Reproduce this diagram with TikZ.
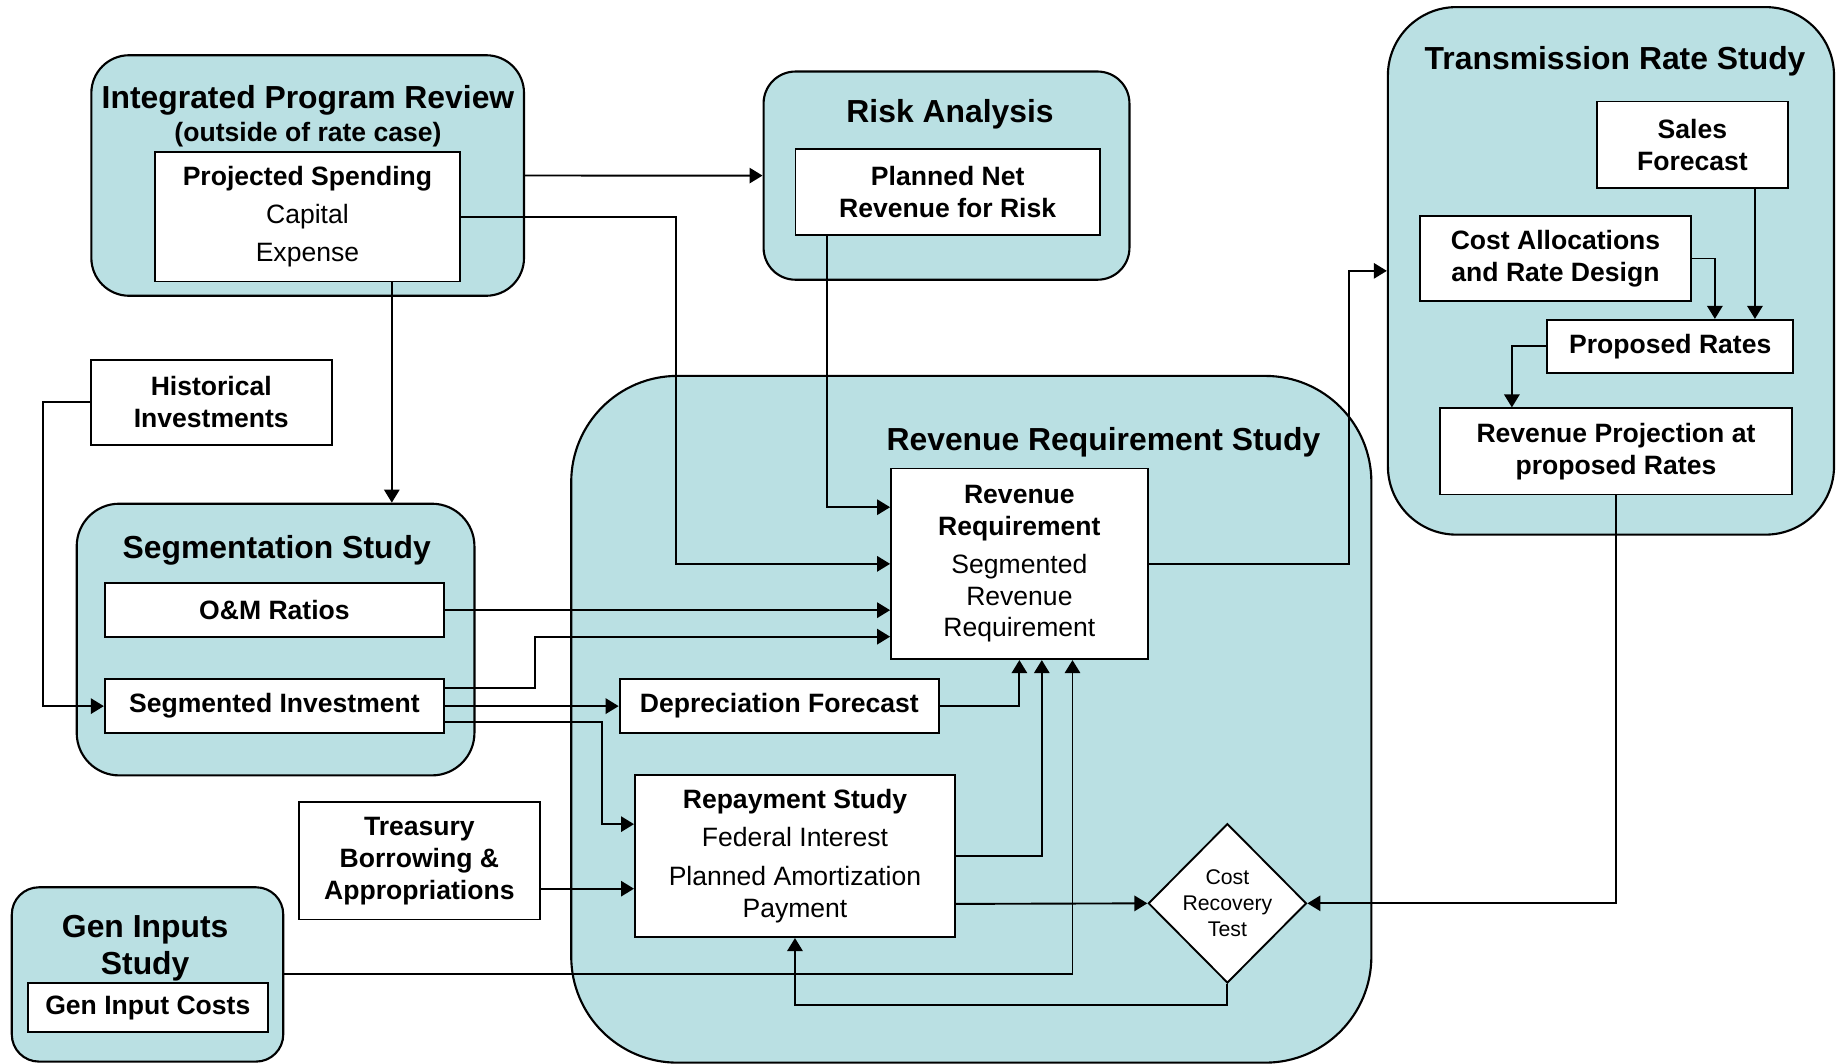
\documentclass[tikz,border=0pt]{standalone}
\usepackage{fontspec}
\setmainfont{Liberation Sans}
\usetikzlibrary{arrows.meta,fit,shapes.geometric,positioning}
\definecolor{studybg}{HTML}{BAE0E3}
\newcommand\ttlfont{\fontsize{13.5}{15.5}\bfseries\selectfont}
\newcommand\boxfont{\fontsize{11.25}{13.5}\bfseries\selectfont}
\newcommand\txtfont{\fontsize{11.25}{13.5}\mdseries\selectfont}
\newcommand\smlfont{\fontsize{9}{11}\mdseries\selectfont}
\tikzset{
  study/.style={draw=black, fill=studybg, line width=0.9pt, inner sep=0pt},
  box/.style={draw=black, fill=white, line width=0.8pt, inner sep=0pt, align=center, font=\boxfont},
  ttl/.style={font=\ttlfont, inner sep=0pt, align=center},
  flow/.style={draw=black, line width=0.8pt, -{Triangle[length=5.5pt,width=6.5pt]}},
  test/.style={diamond, draw=black, fill=white, line width=0.8pt, inner sep=0pt,
    minimum width=67pt, minimum height=67.5pt, align=center, font=\smlfont}
}
\begin{document}
\begin{tikzpicture}[x=0.5pt, y=-0.5pt]
  \useasboundingbox (0,0) rectangle (1565,901.5);
  % study areas
  \node[study, rounded corners=45pt, fit={(484,318.5) (1162,900.4)}] (rrs) {};
  \node[study, rounded corners=16pt, fit={(77.4,46.8) (444,250.6)}] (ipr) {};
  \node[study, rounded corners=13.5pt, fit={(647,60.6) (957,237)}] (risk) {};
  \node[study, rounded corners=29pt, fit={(1176,6) (1554,453)}] (trs) {};
  \node[study, rounded corners=18pt, fit={(65,426.8) (402,657)}] (seg) {};
  \node[study, rounded corners=11.5pt, fit={(10,751.8) (240,899.5)}] (gen) {};
  % titles
  \node[ttl] (iprttl) at (261,85) {Integrated Program Review};
  \node[ttl, font=\boxfont] (iprsub) at (261,114) {(outside of rate case)};
  \node[ttl] (riskttl) at (805,97) {Risk Analysis};
  \node[ttl] (trsttl) at (1368.5,52) {Transmission Rate Study};
  \node[ttl] (rrsttl) at (935,375) {Revenue Requirement Study};
  \node[ttl] (segttl) at (234.5,466) {Segmentation Study};
  \node[ttl] (genttl) at (123,803.5) {Gen Inputs\\Study};
  % boxes
  \node[box, minimum width=129.5pt, minimum height=55pt] (spend) at (260.5,183.5)
    {Projected Spending\\[2.5pt]{\txtfont Capital}\\[2.5pt]{\txtfont Expense}};
  \node[box, minimum width=129pt, minimum height=36.35pt] (netrisk) at (803,162.85) {Planned Net\\Revenue for Risk};
  \node[box, minimum width=81pt, minimum height=36.5pt] (sales) at (1434,122.5) {Sales\\Forecast};
  \node[box, minimum width=115pt, minimum height=36pt] (cost) at (1318,219) {Cost Allocations\\and Rate Design};
  \node[box, minimum width=104.25pt, minimum height=22.5pt] (prop) at (1415.25,293.5) {Proposed Rates};
  \node[box, minimum width=149.25pt, minimum height=36.5pt] (revproj) at (1369.25,382.5) {Revenue Projection at\\proposed Rates};
  \node[box, minimum width=102pt, minimum height=36.15pt] (hist) at (179,340.85) {Historical\\Investments};
  \node[box, minimum width=143.75pt, minimum height=22.7pt] (om) at (232.55,517) {O\&M Ratios};
  \node[box, minimum width=143.75pt, minimum height=22.7pt] (seginv) at (232.55,598.3) {Segmented Investment};
  \node[box, minimum width=108.75pt, minimum height=80.75pt] (revreq) at (863.75,477.75)
    {Revenue\\Requirement\\[2.5pt]{\txtfont Segmented}\\{\txtfont Revenue}\\{\txtfont Requirement}};
  \node[box, minimum width=135.4pt, minimum height=22.7pt] (depr) at (660.4,598.3) {Depreciation Forecast};
  \node[box, minimum width=135.6pt, minimum height=68.5pt] (repay) at (673.6,725.5)
    {Repayment Study\\[2.5pt]{\txtfont Federal Interest}\\[3pt]{\txtfont Planned Amortization}\\{\txtfont Payment}};
  \node[box, minimum width=101.85pt, minimum height=49.7pt] (treas) at (355.35,729.4) {Treasury\\Borrowing \&\\Appropriations};
  \node[box, minimum width=101.75pt, minimum height=20.8pt] (gencost) at (125.25,853.7) {Gen Input Costs};
  \node[test] (crt) at (1040,765.4) {Cost\\Recovery\\Test};
  % connectors
  \draw[flow] (ipr) -- (risk);
  \draw[flow] (spend.east) -- ++(182,0) |- (revreq.west);
  \draw[flow] ([xshift=35.75pt]spend.south) -- ([xshift=35.75pt]spend.south |- seg.north);
  \draw[flow] ([xshift=-51pt]netrisk.south) |- ([yshift=24pt]revreq.west);
  \draw[flow] (hist.west) -- ++(-40,0) |- (seginv.west);
  \draw[flow] (om.east) -- (om.east -| revreq.west);
  \draw[flow] ([yshift=7.75pt]seginv.east) -- ++(76,0) |- ([yshift=-30.85pt]revreq.west);
  \draw[flow] (seginv) -- (depr);
  \draw[flow] ([yshift=-6.65pt]seginv.east) -- ++(133,0) |- ([yshift=13.6pt]repay.west);
  \draw[flow] (depr.east) -| (revreq.south);
  \draw[flow] (repay.east) -| ([xshift=9.5pt]revreq.south);
  \draw[flow] (gen.east) -| ([xshift=22.5pt]revreq.south);
  \draw[flow] ([yshift=-11.8pt]treas.east) -- ([yshift=-11.8pt]treas.east -| repay.west);
  \draw[flow] ([yshift=-20.2pt]repay.east) -- (crt.west);
  \draw[flow] (revproj.south) |- (crt.east);
  \draw[flow] (crt.south) -- ++(0,18) -| (repay.south);
  \draw[flow] (revreq.east) -- ++(169.5,0) |- (trs.west);
  \draw[flow] (cost.east) -| ([xshift=18.9pt]prop.north);
  \draw[flow] ([xshift=26.5pt]sales.south) -- ([xshift=26.5pt]sales.south |- prop.north);
  \draw[flow] (prop.west) -| ([xshift=-44.1pt]revproj.north);
\end{tikzpicture}
\end{document}
